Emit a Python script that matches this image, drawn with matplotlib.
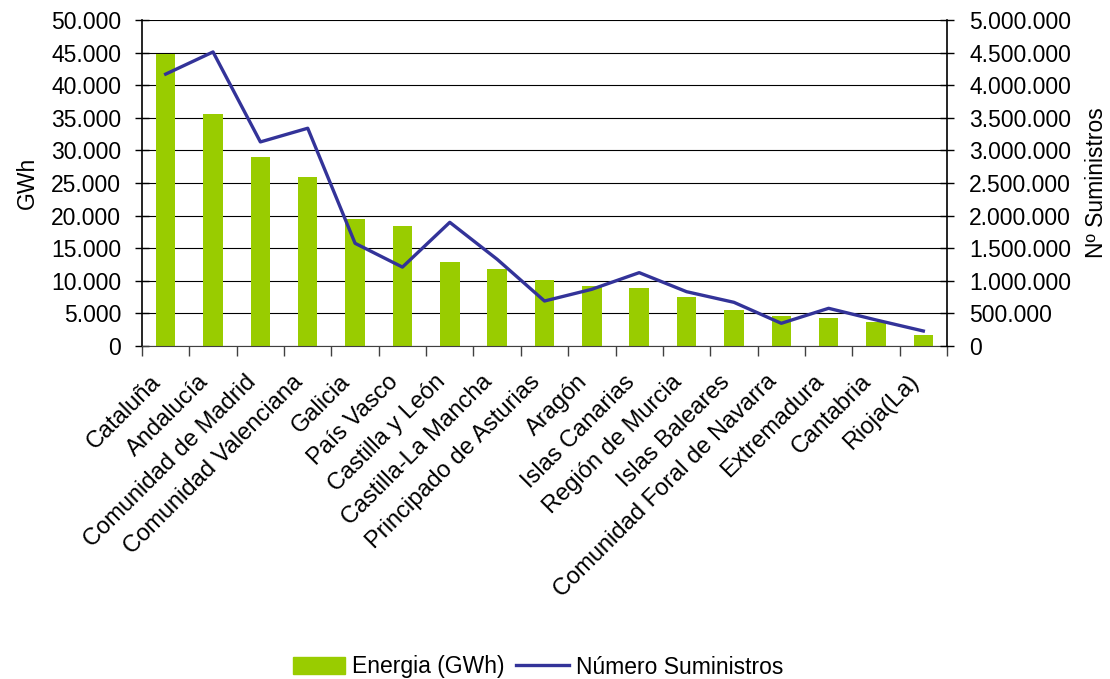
import matplotlib.pyplot as plt
from matplotlib.ticker import FuncFormatter, MultipleLocator
from matplotlib.patches import Patch
from matplotlib.lines import Line2D
import numpy as np

comunidades = ['Cataluña', 'Andalucía', 'Comunidad de Madrid', 'Comunidad Valenciana',
               'Galicia', 'País Vasco', 'Castilla y León', 'Castilla-La Mancha',
               'Principado de Asturias', 'Aragón', 'Islas Canarias', 'Región de Murcia',
               'Islas Baleares', 'Comunidad Foral de Navarra', 'Extremadura', 'Cantabria',
               'Rioja(La)']
energia = [44800, 35600, 29000, 25900, 19500, 18400, 12900, 11800, 10100,
           9200, 8900, 7500, 5500, 4600, 4300, 3700, 1700]
suministros = [4170000, 4510000, 3130000, 3340000, 1575000, 1210000, 1897000, 1330000,
               690000, 870000, 1125000, 833000, 670000, 348000, 578000, 400000, 230000]

plt.rcParams['font.family'] = ['Liberation Sans', 'DejaVu Sans']
plt.rcParams['font.size'] = 16.5

def miles(v, pos):
    return '{:,.0f}'.format(v).replace(',', '.')

fig = plt.figure(figsize=(11.1, 6.79), dpi=100)
W, H = 1110, 679
ax = fig.add_axes([142 / W, 1 - 346 / H, 805 / W, 326 / H])
x = np.arange(len(comunidades))

ax.bar(x, energia, width=0.41, color='#99CC00', zorder=2)
ax.set_xlim(-0.5, len(comunidades) - 0.5)
ax.set_ylim(0, 50000)
ax.yaxis.set_major_locator(MultipleLocator(5000))
ax.yaxis.set_major_formatter(FuncFormatter(miles))
ax.grid(axis='y', color='black', linewidth=0.8, zorder=0)
ax.set_axisbelow(True)
ax.set_ylabel('GWh', labelpad=9)

ax.set_xticks(x)
ax.set_xticklabels(comunidades, rotation=45, ha='right', va='bottom', rotation_mode='anchor',
                   fontsize=17)
ax.tick_params(axis='x', length=0, pad=29)
ax.set_xticks(np.arange(-0.5, len(comunidades)), minor=True)
ax.tick_params(axis='x', which='minor', length=7, width=1, color='#404040')
ax.tick_params(axis='y', direction='inout', length=10, width=1, pad=10)
for s in ['top', 'right']:
    ax.spines[s].set_visible(False)
ax.spines['left'].set_linewidth(1.2)
ax.spines['bottom'].set_color('#404040')

ax2 = ax.twinx()
ax2.plot(x, suministros, color='#333399', linewidth=2.4, zorder=3)
ax2.set_ylim(0, 5000000)
ax2.yaxis.set_major_locator(MultipleLocator(500000))
ax2.yaxis.set_major_formatter(FuncFormatter(miles))
ax2.tick_params(axis='y', direction='inout', length=10, width=1, pad=11)
ax2.set_ylabel('Nº Suministros', labelpad=10)
for s in ['top', 'left', 'bottom']:
    ax2.spines[s].set_visible(False)
ax2.spines['right'].set_linewidth(1.2)

handles = [Patch(color='#99CC00', label='Energia (GWh)'),
           Line2D([0], [0], color='#333399', linewidth=2.4, label='Número Suministros')]
fig.legend(handles=handles, loc='center', bbox_to_anchor=(538 / W, 1 - 667 / H), ncol=2,
           frameon=False, handlelength=2.3, handletextpad=0.3, columnspacing=0.5)

fig.savefig('out.png', dpi=100)
